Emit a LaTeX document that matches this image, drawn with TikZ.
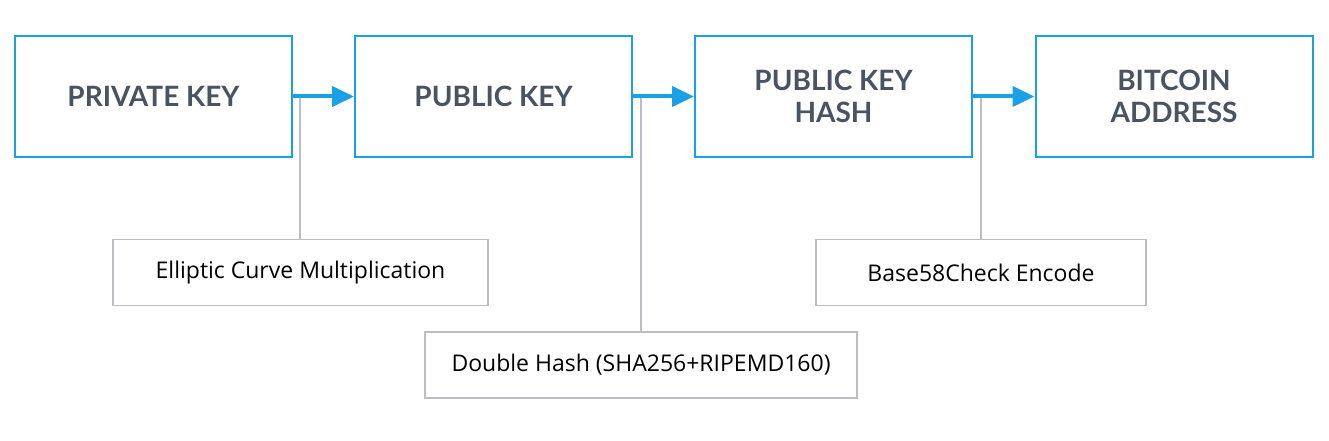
\documentclass[tikz,border=0pt]{standalone}
\usepackage{fontspec}
\setmainfont{Lato}
\newfontfamily\labelfont{Open Sans}
\usetikzlibrary{arrows.meta,positioning}
\definecolor{mblue}{HTML}{1AA0E6}
\definecolor{mtext}{HTML}{4A5361}
\definecolor{mgray}{HTML}{BDBDC8}
\tikzset{
  keybox/.style={draw=mblue,line width=2pt,minimum width=277pt,minimum height=121pt,inner sep=0pt,
    align=center,text=mtext,font=\fontsize{28}{32}\selectfont\bfseries},
  opbox/.style={draw=mgray,line width=1.5pt,minimum height=66pt,inner sep=0pt,
    align=center,text=black,font=\labelfont\fontsize{23}{27}\selectfont},
  flow/.style={draw=mblue,line width=4pt,-{Triangle[length=22pt,width=20pt]}},
  tick/.style={draw=mgray,line width=1.5pt}
}
\begin{document}
\begin{tikzpicture}[x=1pt,y=-1pt]
\useasboundingbox (0,0) rectangle (1329,441);
\node[keybox] (pk) at (153.5,96.5) {PRIVATE KEY};
\node[keybox] (pub) at (493.5,96.5) {PUBLIC KEY};
\node[keybox] (pkh) at (833.5,96.5) {PUBLIC KEY\\HASH};
\node[keybox] (addr) at (1174,96.5) {BITCOIN\\ADDRESS};
\node[opbox,minimum width=375pt] (ecm) at (300.5,272.5) {Elliptic Curve Multiplication};
\node[opbox,minimum width=432pt] (dh) at (641,365) {Double Hash (SHA256+RIPEMD160)};
\node[opbox,minimum width=330pt] (b58) at (981,272.5) {Base58Check Encode};
\coordinate (j1) at (300,96.5);
\coordinate (j2) at (641,96.5);
\coordinate (j3) at (981,96.5);
\draw[tick] (j1) -- (ecm.north -| j1);
\draw[tick] (j2) -- (dh.north);
\draw[tick] (j3) -- (b58.north -| j3);
\draw[flow] (pk.east) -- (pub.west);
\draw[flow] (pub.east) -- (pkh.west);
\draw[flow] (pkh.east) -- (addr.west);
\end{tikzpicture}
\end{document}
